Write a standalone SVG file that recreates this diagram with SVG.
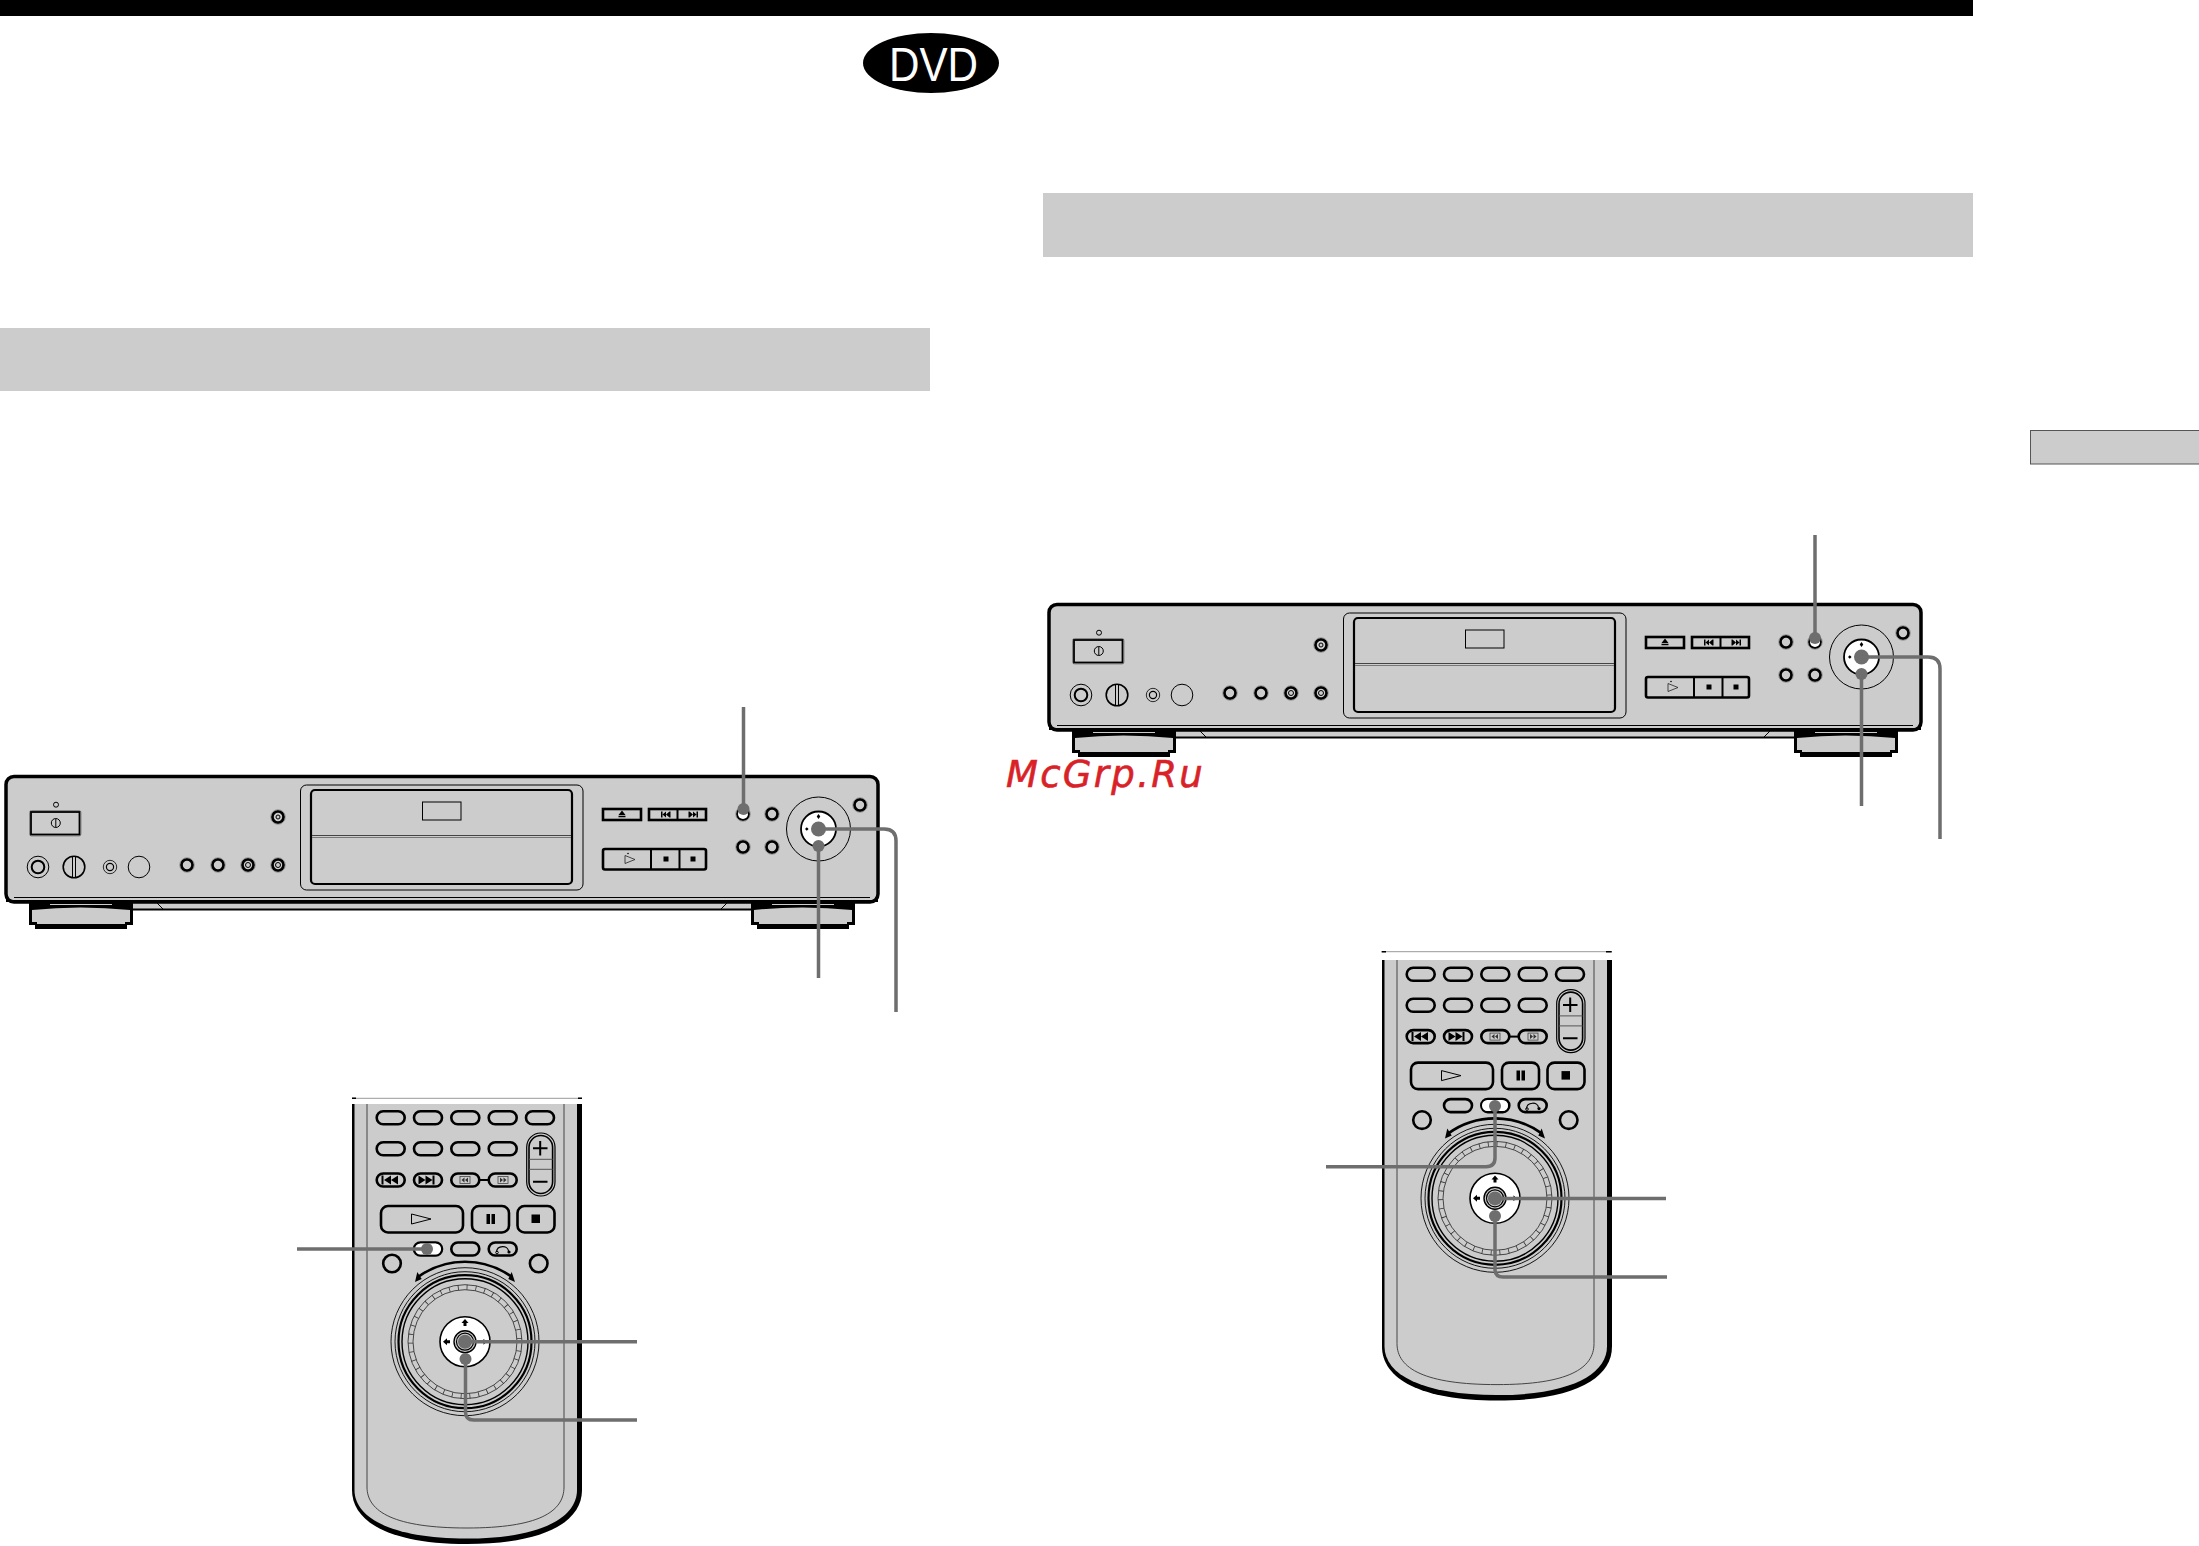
<svg xmlns="http://www.w3.org/2000/svg" width="2199" height="1546" viewBox="0 0 2199 1546">
<style>
.g{fill:#ccc}
.k{fill:#000}
.t{fill:none;stroke:#000;stroke-width:1}
.m{fill:none;stroke:#000;stroke-width:2}
.b{fill:#ccc;stroke:#000;stroke-width:2.600}
.ln{fill:none;stroke:#6e6e6e;stroke-width:3.500}
.dot{fill:#6e6e6e}
</style>
<defs>
<g id="foot">
<path class="k" d="M29 902H133V925H127V929H35V925H29Z"/>
<path class="g" d="M32 910Q80 905 130 910V922H125V924H37V922H32Z"/>
<path d="M50 904.500H112" stroke="#ccc" stroke-width="1"/>
</g>
<g id="rbtn"><circle r="5.600" fill="#ccc" stroke="#000" stroke-width="2.800"/><circle r="7.300" fill="none" stroke="#888" stroke-width="0.800"/></g>
<g id="player">
<path class="g" d="M133 903H751V910H133Z"/>
<path class="m" d="M133 909.500H751" stroke-width="2.500"/>
<path class="t" d="M157 903L163 909M727 903L721 909"/>
<use href="#foot"/>
<use href="#foot" x="722"/>
<rect x="6" y="776.500" width="872" height="125.500" rx="8" fill="#ccc" stroke="#000" stroke-width="3.500"/>
<path d="M6 895Q7 900 14 900H872Q877 900 878 895V902H6Z" class="k"/>
<path d="M14 897.500H870" stroke="#000" stroke-width="1" fill="none"/>
<rect x="29.500" y="810.500" width="51.500" height="25.500" rx="2" fill="#ccc" stroke="#888" stroke-width="1"/>
<rect x="31" y="812" width="48.500" height="22.500" fill="#ccc" stroke="#000" stroke-width="1.800"/>
<circle cx="56" cy="804.700" r="2.500" class="t"/>
<circle cx="55.800" cy="823" r="4.500" class="t"/><path class="t" d="M55.800 819V827"/>
<circle cx="38" cy="867" r="10.800" class="t"/><circle cx="38" cy="867" r="6.300" class="m"/>
<circle cx="74" cy="867" r="10.800" fill="#ccc" stroke="#000" stroke-width="1.600"/><path class="t" d="M72.500 856.500V877.500M75.500 856.500V877.500"/>
<circle cx="110" cy="867" r="6.700" stroke="#000" fill="#ccc" stroke-width="0.800"/><circle cx="110" cy="867" r="3.600" fill="none" stroke="#000" stroke-width="1.200"/>
<circle cx="139" cy="867" r="10.800" class="t"/>
<use href="#rbtn" x="187" y="865"/><use href="#rbtn" x="218" y="865"/><use href="#rbtn" x="248" y="865"/><use href="#rbtn" x="278" y="865"/>
<circle cx="248" cy="865" r="2.500" class="t"/><circle cx="278" cy="865" r="2.500" class="t"/>
<use href="#rbtn" x="278" y="817"/><circle cx="278" cy="817" r="2" class="t"/>
<rect x="300.500" y="785" width="282.500" height="105" rx="6" fill="#ccc" stroke="#000" stroke-width="1"/>
<rect x="311" y="790" width="261" height="94" rx="4" fill="#ccc" stroke="#000" stroke-width="2.200"/>
<path d="M312 835.500H571" stroke="#444" stroke-width="1.200"/><path d="M312 837.500H571" stroke="#777" stroke-width="1"/>
<rect x="422.500" y="802" width="38.500" height="18" class="t"/>
<rect x="603" y="809" width="38" height="11" class="b"/>
<path class="k" d="M622 810.500L625.500 815H618.500ZM618.500 815.800H625.500V817.300H618.500Z"/>
<rect x="649" y="809" width="57" height="11" class="b"/>
<path class="m" d="M677.500 809V820"/>
<path class="k" d="M661 811.500h1.500v6h-1.500zM662.500 814.500l3.500-3v6zM666 814.500l3.500-3v6zM669.500 811.500h1v6h-1zM688.500 811.500h1v6h-1zM689.500 811.500l3.500 3-3.500 3zM693 811.500l3.500 3-3.500 3zM696.500 811.500h1.500v6h-1.500z"/>
<rect x="603" y="849" width="103" height="20.500" rx="2" class="b"/>
<path class="m" d="M651 849V869.500M679.500 849V869.500"/>
<path fill="none" stroke="#222" stroke-width="0.800" d="M625 855.500L635 859.500L625 863.500Z"/><circle cx="628" cy="853.500" r="0.800" class="k"/>
<rect x="663.500" y="856.500" width="5" height="5" class="k"/><rect x="690.500" y="856.500" width="5" height="5" class="k"/>
<use href="#rbtn" x="743" y="814"/><use href="#rbtn" x="772" y="814"/><use href="#rbtn" x="743" y="847"/><use href="#rbtn" x="772" y="847"/>
<circle cx="818.500" cy="829" r="32" fill="#ccc" stroke="#000" stroke-width="1"/>
<circle cx="818.500" cy="829" r="17.500" fill="#fff" stroke="#000" stroke-width="1.800"/>
<path class="k" d="M818.500 814l1.800 2.500-1.800 2.500-1.800-2.500zM805 829l1.800-1.800 1.800 1.800-1.800 1.800zM831 829l1-1 1 1-1 1z"/>
<use href="#rbtn" x="860" y="805"/>
</g>
<rect id="pill" x="-14" y="-6.500" width="28" height="13" rx="6.500" class="b"/>
<g id="remote">
<path class="k" d="M352 1103V1490C352 1522 390 1544 467 1544C544 1544 582 1522 582 1490V1103Z"/>
<path class="g" d="M354.500 1103V1490C354.500 1518 392 1538.500 467 1538.500C540 1538.500 577 1518 577 1490V1103Z"/>
<path d="M367 1103V1487C367 1512 395 1528 467 1528C538 1528 564 1512 564 1487V1103" fill="none" stroke="#444" stroke-width="1"/>
<use href="#pill" x="390.700" y="1117.700"/><use href="#pill" x="428" y="1117.700"/><use href="#pill" x="465.300" y="1117.700"/><use href="#pill" x="502.700" y="1117.700"/><use href="#pill" x="540" y="1117.700"/>
<use href="#pill" x="390.700" y="1148.700"/><use href="#pill" x="428" y="1148.700"/><use href="#pill" x="465.300" y="1148.700"/><use href="#pill" x="502.700" y="1148.700"/>
<use href="#pill" x="390.700" y="1180"/><use href="#pill" x="428" y="1180"/><use href="#pill" x="465.300" y="1180"/><use href="#pill" x="502.700" y="1180"/>
<path class="m" d="M479 1180H489"/>
<path class="k" d="M381.500 1175.500v9h2v-9zM384 1180l7-4.500v9zM391 1180l7-4.500v9zM418.500 1175.500l7 4.500-7 4.500zM425.500 1175.500l7 4.500-7 4.500zM432.500 1175.500h2v9h-2z"/>
<rect x="460" y="1176.500" width="10" height="7" fill="none" stroke="#444" stroke-width="0.800"/><rect x="498" y="1176.500" width="10" height="7" fill="none" stroke="#444" stroke-width="0.800"/>
<path d="M461.500 1180l3-2.500v5zM465 1180l3-2.500v5zM500 1177.500l3 2.500-3 2.500zM503.500 1177.500l3 2.500-3 2.500z" fill="#333"/>
<rect x="526.700" y="1133" width="28.300" height="63" rx="14" fill="#ccc" stroke="#000" stroke-width="1.200"/>
<rect x="529" y="1135.500" width="23.600" height="58" rx="11.800" fill="#ccc" stroke="#000" stroke-width="1.600"/>
<path fill="none" stroke="#555" stroke-width="1" d="M529 1159.300H552.600M529 1169.300H552.600"/>
<path class="m" d="M533 1148.300H547.500M540.200 1141V1155.500M533 1181.700H547.500"/>
<rect x="381" y="1206" width="82" height="26.500" rx="7" class="b"/>
<path class="t" d="M411.500 1214L431 1219L411.500 1224Z"/>
<rect x="472" y="1206" width="37" height="26.500" rx="7" class="b"/>
<path class="k" d="M486.500 1214h3.500v10h-3.500zM491.500 1214h3.500v10h-3.500z"/>
<rect x="517.500" y="1206" width="37" height="26.500" rx="7" class="b"/>
<rect x="531.500" y="1214.500" width="8.500" height="8.500" class="k"/>
<use href="#pill" x="428" y="1249"/><use href="#pill" x="465.300" y="1249"/><use href="#pill" x="502.700" y="1249"/>
<path fill="none" stroke="#000" stroke-width="1.200" d="M496.500 1252C497 1245 508 1245 508.500 1251"/><circle cx="497" cy="1252.500" r="1.300" class="t"/><circle cx="509" cy="1252" r="1.600" class="k"/>
<circle cx="392" cy="1263.500" r="8.800" class="b"/><circle cx="538.700" cy="1263.500" r="8.800" class="b"/>
<path d="M418 1277A80 80 0 0 1 512 1277" fill="none" stroke="#000" stroke-width="2.600"/>
<path class="k" d="M417.300 1272L421.700 1279L415 1282ZM511.700 1272L508.300 1279L515 1282Z"/>
<circle cx="465" cy="1341.700" r="74" fill="#ccc" stroke="#000" stroke-width="0.900"/>
<circle cx="465" cy="1341.700" r="70" fill="none" stroke="#000" stroke-width="0.900"/>
<circle cx="465" cy="1341.700" r="66.500" fill="none" stroke="#000" stroke-width="2.200"/>
<circle cx="465" cy="1341.700" r="63" fill="none" stroke="#000" stroke-width="1.400"/>
<circle cx="465" cy="1341.700" r="57" fill="none" stroke="#222" stroke-width="0.800"/>
<circle cx="465" cy="1341.700" r="52" fill="none" stroke="#222" stroke-width="0.800"/>
<circle cx="465" cy="1341.700" r="54.500" fill="none" stroke="#333" stroke-width="5" stroke-dasharray="0.800 8.100"/>
<circle cx="465" cy="1341.700" r="25" fill="#fff" stroke="#000" stroke-width="1.600"/>
<path class="k" d="M465 1319l3.500 4h-2v3h-3v-3h-2zM443 1341.700l4-3.500v2h3v3h-3v2zM486.500 1341.700l-3-3v6z"/>
<circle cx="465" cy="1341.700" r="11" fill="#ccc" stroke="#000" stroke-width="1.400"/>
<circle cx="465" cy="1341.700" r="8.500" fill="#ccc" stroke="#000" stroke-width="1.200"/>
</g>
</defs>
<g id="top-bar"><rect width="1973" height="16" class="k"/></g>
<g id="dvd-badge"><ellipse cx="931" cy="63" rx="68" ry="30" class="k"/>
<text x="889" y="81" font-family="'Liberation Sans',Arial,sans-serif" font-size="49" fill="#fff" textLength="89" lengthAdjust="spacingAndGlyphs">DVD</text></g>
<g id="banner-left"><rect x="0" y="328" width="930" height="63" class="g"/></g>
<g id="banner-right"><rect x="1043" y="193" width="930" height="64" class="g"/></g>
<g id="side-tab"><rect x="2030.500" y="430.500" width="172" height="33.500" class="g" stroke="#555" stroke-width="1"/></g>
<g id="player-left"><use href="#player"/><circle cx="743" cy="814" r="5" fill="#fff"/></g>
<g id="player-right"><use href="#player" transform="translate(1043,-172)"/><circle cx="1815" cy="642" r="5" fill="#fff"/></g>
<g id="remote-left"><use href="#remote"/><rect x="350" y="1096" width="234" height="8" fill="#fff"/><path d="M352 1098.300H582" stroke="#999" stroke-width="1"/><path d="M352 1098.300H356M578 1098.300H582" stroke="#000" stroke-width="1.500"/>
<rect x="415" y="1243.500" width="26" height="11" rx="5.500" fill="#fff"/></g>
<g id="remote-right"><use href="#remote" transform="translate(1030,-143.400)"/><rect x="1380" y="948" width="234" height="12" fill="#fff"/><path d="M1381.700 951.700H1611.700" stroke="#999" stroke-width="1"/><path d="M1381.700 951.700H1386M1606 951.700H1611.700" stroke="#000" stroke-width="1.500"/>
<rect x="1482" y="1100" width="26" height="11" rx="5.500" fill="#fff"/></g>
<g id="connectors">
<path class="ln" d="M743.500 707V808"/><circle class="dot" cx="743.500" cy="809" r="6"/>
<circle class="dot" cx="818.500" cy="829" r="7.500"/><path class="ln" d="M818.500 829H884Q896 829 896 841V1012"/>
<circle class="dot" cx="818.500" cy="846" r="6"/><path class="ln" d="M818.500 846V978"/>
<path class="ln" d="M1815 535V638"/><circle class="dot" cx="1815" cy="638" r="6"/>
<circle class="dot" cx="1861.500" cy="657" r="7.500"/><path class="ln" d="M1861.500 657H1928Q1940 657 1940 669V839"/>
<circle class="dot" cx="1861.500" cy="674" r="6"/><path class="ln" d="M1861.500 674V806"/>
<path class="ln" d="M297 1249H427"/><circle class="dot" cx="427" cy="1249" r="6"/>
<circle class="dot" cx="465" cy="1341.700" r="7"/><path class="ln" d="M465 1341.700H637"/>
<circle class="dot" cx="465.500" cy="1359" r="6"/><path class="ln" d="M465.500 1359V1412Q465.500 1420 473.500 1420H637"/>
<circle class="dot" cx="1495" cy="1106" r="6"/><path class="ln" d="M1495 1106V1158Q1495 1166.700 1486 1166.700H1326"/>
<circle class="dot" cx="1495" cy="1198.400" r="7"/><path class="ln" d="M1495 1198.400H1666"/>
<circle class="dot" cx="1495" cy="1216" r="6"/><path class="ln" d="M1495 1216V1269Q1495 1277 1503 1277H1667"/>
</g>
<g id="watermark"><text x="1006" y="787" font-family="'DejaVu Sans',sans-serif" font-style="italic" font-size="37" letter-spacing="2.300" fill="#d92228" stroke="#d92228" stroke-width="0.600">McGrp.Ru</text></g>
</svg>
